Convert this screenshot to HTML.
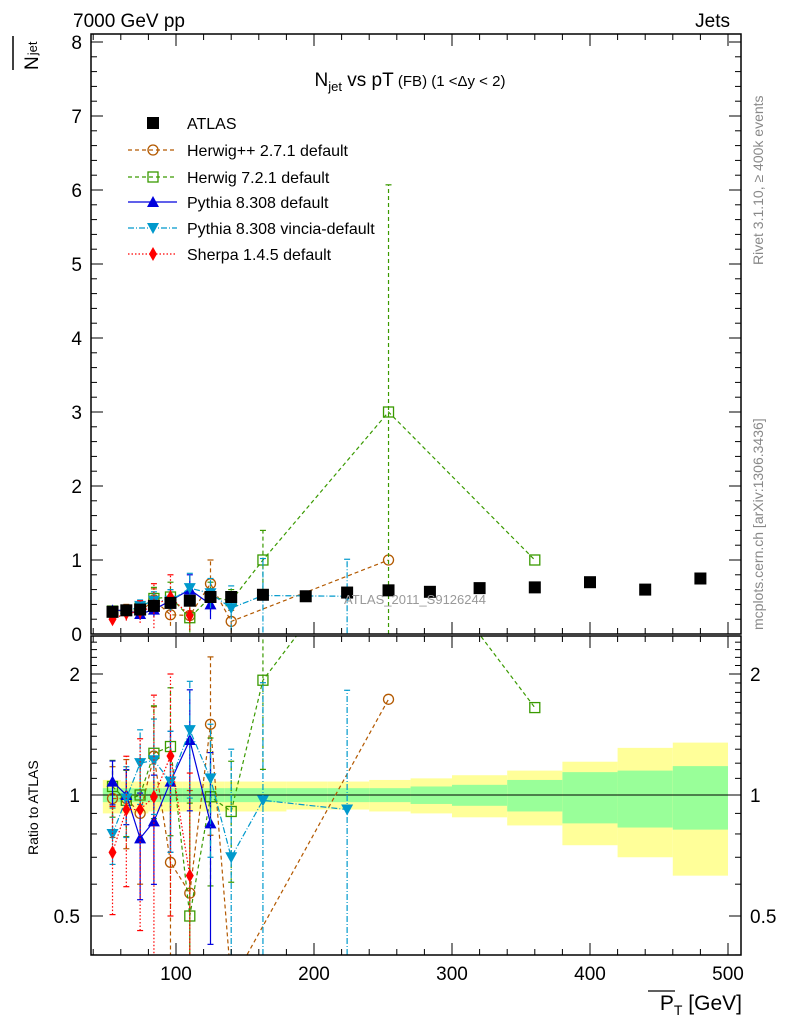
<!DOCTYPE html>
<html><head><meta charset="utf-8"><style>
html,body{margin:0;padding:0;background:#fff;width:786px;height:1024px;overflow:hidden;}
svg{display:block;font-family:"Liberation Sans",sans-serif;}
</style></head><body>
<svg id="c" width="786" height="1024" viewBox="0 0 786 1024"></svg>
<script>
const xATLAS=[54,64,74,84,96,110,125,140,163,194,224,254,284,320,360,400,440,480];
const yATLAS=[0.3,0.32,0.33,0.38,0.42,0.45,0.5,0.5,0.53,0.51,0.56,0.59,0.57,0.62,0.63,0.70,0.60,0.75];
const xHpp=[54,64,74,84,96,110,125,140,254];
const yHpp=[0.3,0.32,0.3,0.46,0.26,0.25,0.68,0.17,1.0];
const eHpp=[0.06,0.08,0.1,0.15,0.15,0.2,0.32,0.15,0];
const rHpp=[0.98,0.98,0.9,1.25,0.68,0.57,1.5,0.34,1.73];
const xH7=[54,64,74,84,96,110,125,140,163,254,360];
const yH7=[0.31,0.32,0.35,0.48,0.5,0.22,0.5,0.45,1.0,3.0,1.0];
const eH7=[0.05,0.06,0.08,0.15,0.2,0.2,0.2,0.15,0.4,3.07,0];
const rH7=[1.05,0.97,1.0,1.27,1.32,0.5,0.99,0.91,1.93,5.0,1.65];
const xPy=[54,64,74,84,96,110,125];
const yPy=[0.32,0.32,0.27,0.33,0.45,0.6,0.4];
const ePy=[0.04,0.05,0.08,0.1,0.15,0.2,0.2];
const rPy=[1.08,1.0,0.78,0.86,1.08,1.37,0.85];
const xVi=[54,64,74,84,96,110,125,140,163,224];
const yVi=[0.25,0.3,0.38,0.45,0.45,0.62,0.55,0.35,0.52,0.51];
const eVi=[0.04,0.06,0.08,0.12,0.15,0.2,0.2,0.3,0.5,0.5];
const rVi=[0.8,0.98,1.2,1.22,1.08,1.45,1.1,0.7,0.97,0.92];
const xSh=[54,64,74,84,96,110];
const ySh=[0.2,0.28,0.3,0.38,0.5,0.25];
const eSh=[0.06,0.1,0.15,0.3,0.3,0.2];
const rSh=[0.72,0.92,0.92,0.99,1.25,0.63];
const binEdges=[47,60,70,80,90,105,120,135,150,180,210,240,270,300,340,380,420,460,500];
const yelHi=[1.09,1.08,1.08,1.08,1.08,1.08,1.08,1.08,1.08,1.08,1.08,1.09,1.1,1.12,1.15,1.21,1.31,1.35];
const yelLo=[0.9,0.9,0.9,0.91,0.91,0.91,0.91,0.91,0.91,0.92,0.92,0.91,0.9,0.88,0.84,0.75,0.7,0.63];
const grnHi=[1.04,1.04,1.04,1.04,1.04,1.04,1.04,1.04,1.04,1.04,1.04,1.04,1.05,1.06,1.09,1.14,1.15,1.18];
const grnLo=[0.96,0.96,0.96,0.96,0.96,0.96,0.96,0.96,0.96,0.96,0.96,0.96,0.95,0.94,0.91,0.85,0.83,0.82];

const S=document.getElementById('c');const NS='http://www.w3.org/2000/svg';
function el(t,a,p){const e=document.createElementNS(NS,t);for(const k in a)e.setAttribute(k,a[k]);(p||S).appendChild(e);return e;}
const L=91,R=741,T=34,MB=634,RB=955;
const X=v=>176+(v-100)*1.38;
const Y=v=>634-v*74;
const YR=r=>795-121*Math.log2(r);
const defs=el('defs',{});
const c1=el('clipPath',{id:'cm'},defs);el('rect',{x:L,y:T,width:R-L,height:MB-T},c1);
const c2=el('clipPath',{id:'cr'},defs);el('rect',{x:L,y:636,width:R-L,height:RB-636},c2);
const gb=el('g',{'clip-path':'url(#cr)'});

for(let i=0;i<yelHi.length;i++){
 const x0=X(binEdges[i]),x1=X(binEdges[i+1]);
 el('rect',{x:x0,y:YR(yelHi[i]),width:x1-x0,height:YR(yelLo[i])-YR(yelHi[i]),fill:'#ffff99'},gb);
 el('rect',{x:x0,y:YR(grnHi[i]),width:x1-x0,height:YR(grnLo[i])-YR(grnHi[i]),fill:'#99ff99'},gb);
}
el('line',{x1:L,x2:R,y1:YR(1),y2:YR(1),stroke:'#000','stroke-width':1});
const series=[
 {n:'herwigpp',x:xHpp,y:yHpp,e:eHpp,r:rHpp,c:'#b35900',d:'4,3',m:'circle'},
 {n:'herwig7',x:xH7,y:yH7,e:eH7,r:rH7,c:'#3a9a00',d:'4,3',m:'square'},
 {n:'pythia',x:xPy,y:yPy,e:ePy,r:rPy,c:'#0000dd',d:'',m:'up'},
 {n:'vincia',x:xVi,y:yVi,e:eVi,r:rVi,c:'#0099cc',d:'6,2,1,2',m:'down'},
 {n:'sherpa',x:xSh,y:ySh,e:eSh,r:rSh,c:'#ff0000',d:'1.5,2',m:'diamond'}];
function marker(g,m,x,y,c){
 if(m=='circle')return el('circle',{cx:x,cy:y,r:5,fill:'none',stroke:c,'stroke-width':1.3},g);
 if(m=='square')return el('rect',{x:x-5,y:y-5,width:10,height:10,fill:'none',stroke:c,'stroke-width':1.3},g);
 if(m=='up')return el('polygon',{points:`${x},${y-6} ${x-6},${y+5} ${x+6},${y+5}`,fill:c},g);
 if(m=='down')return el('polygon',{points:`${x},${y+6} ${x-6},${y-5} ${x+6},${y-5}`,fill:c},g);
 if(m=='diamond')return el('polygon',{points:`${x},${y-7} ${x-4},${y} ${x},${y+7} ${x+4},${y}`,fill:c},g);
 if(m=='sq')return el('rect',{x:x-6,y:y-6,width:12,height:12,fill:'#000'},g);
}
series.forEach(s=>{
 const gm=el('g',{'clip-path':'url(#cm)'});
 
 el('polyline',{points:s.x.map((v,i)=>X(v)+','+Y(s.y[i])).join(' '),fill:'none',stroke:s.c,'stroke-width':1.2,'stroke-dasharray':s.d},gm);
 s.x.forEach((v,i)=>{const x=X(v);if(s.e[i]>0){const a=Y(Math.max(0,s.y[i]-s.e[i])),b=Y(s.y[i]+s.e[i]);
  el('line',{x1:x,x2:x,y1:a,y2:b,stroke:s.c,'stroke-width':1.2,'stroke-dasharray':s.d},gm);
  el('line',{x1:x-3,x2:x+3,y1:b,y2:b,stroke:s.c,'stroke-width':1.2},gm);}
  marker(gm,s.m,x,Y(s.y[i]),s.c);});
 const gr=el('g',{'clip-path':'url(#cr)'});
 
 el('polyline',{points:s.x.map((v,i)=>X(v)+','+YR(s.r[i])).join(' '),fill:'none',stroke:s.c,'stroke-width':1.2,'stroke-dasharray':s.d},gr);
 s.x.forEach((v,i)=>{const x=X(v);if(s.e[i]>0&&s.r[i]<2.5&&s.r[i]>0.4){const re=s.e[i]/s.y[i]*s.r[i];const a=YR(Math.max(0.05,s.r[i]-re)),b=YR(s.r[i]+re);
  el('line',{x1:x,x2:x,y1:a,y2:b,stroke:s.c,'stroke-width':1.2,'stroke-dasharray':s.d},gr);
  el('line',{x1:x-3,x2:x+3,y1:b,y2:b,stroke:s.c,'stroke-width':1.2},gr);
  el('line',{x1:x-3,x2:x+3,y1:a,y2:a,stroke:s.c,'stroke-width':1.2},gr);}
  marker(gr,s.m,x,YR(s.r[i]),s.c);});
});
const ga=el('g',{'clip-path':'url(#cm)'});

xATLAS.forEach((v,i)=>marker(ga,'sq',X(v),Y(yATLAS[i])));
el('text',{x:415,y:604,'font-size':13,fill:'#999','text-anchor':'middle'}).textContent='ATLAS_2011_S9126244';
el('rect',{x:L,y:T,width:R-L,height:MB-T,fill:'none',stroke:'#000','stroke-width':1.5});
el('rect',{x:L,y:MB+2,width:R-L,height:RB-MB-2,fill:'none',stroke:'#000','stroke-width':1.5});
for(let v=0;v<=8.001;v+=0.2){const y=Y(v);const maj=Math.abs(v-Math.round(v))<1e-6;const l=maj?12:6;
 el('line',{x1:L,x2:L+l,y1:y,y2:y,stroke:'#000'});el('line',{x1:R,x2:R-l,y1:y,y2:y,stroke:'#000'});
 if(maj){const t=el('text',{x:82,y:y+7,'font-size':19,'text-anchor':'end'});t.textContent=Math.round(v);}}
for(let v=0.4;v<=2.5;v+=0.1){const y=YR(v);if(y<636||y>RB)continue;const maj=[0.5,1,2].some(m=>Math.abs(m-v)<1e-6);const l=maj?12:6;
 el('line',{x1:L,x2:L+l,y1:y,y2:y,stroke:'#000'});el('line',{x1:R,x2:R-l,y1:y,y2:y,stroke:'#000'});
 if(maj){const s=Math.abs(v-1)<1e-6?'1':Math.abs(v-2)<1e-6?'2':'0.5';
  el('text',{x:80,y:y+7,'font-size':19,'text-anchor':'end'}).textContent=s;
  el('text',{x:750,y:y+7,'font-size':19}).textContent=s;}}
for(let v=40;v<=508;v+=20){const x=X(v);const maj=v%100==0;const l=maj?12:6;
 [[MB,-1],[T,1],[RB,-1],[636,1]].forEach(([y0,d])=>el('line',{x1:x,x2:x,y1:y0,y2:y0+d*l,stroke:'#000'}));
 if(maj)el('text',{x:x,y:980,'font-size':19,'text-anchor':'middle'}).textContent=v;}
el('text',{x:73,y:27,'font-size':19}).textContent='7000 GeV pp';
el('text',{x:730,y:27,'font-size':19,'text-anchor':'end'}).textContent='Jets';
el('line',{x1:13,x2:13,y1:36,y2:70,stroke:'#000','stroke-width':1.5});
const yt=el('text',{transform:'translate(38,70) rotate(-90)','font-size':19});yt.innerHTML='N<tspan font-size="13" dy="-1" dx="1">jet</tspan>';
const tt=el('text',{x:410,y:86,'font-size':19,'text-anchor':'middle'});
tt.innerHTML='N<tspan font-size="13" dy="5">jet</tspan><tspan dy="-5"> vs pT</tspan><tspan font-size="15"> (FB) (1 &lt;Δy &lt; 2)</tspan>';
el('text',{transform:'translate(38,855) rotate(-90)','font-size':14}).textContent='Ratio to ATLAS';
const xt=el('text',{x:742,y:1010,'font-size':21,'text-anchor':'end'});xt.innerHTML='P<tspan font-size="14" dy="5">T</tspan><tspan dy="-5"> [GeV]</tspan>';
el('line',{x1:648,x2:675,y1:991,y2:991,stroke:'#000','stroke-width':1.3});
el('text',{transform:'translate(763,265) rotate(-90)','font-size':14,fill:'#888'}).textContent='Rivet 3.1.10, ≥ 400k events';
el('text',{transform:'translate(763,630) rotate(-90)','font-size':14,fill:'#888'}).textContent='mcplots.cern.ch [arXiv:1306.3436]';
const leg=[['ATLAS',null],['Herwig++ 2.7.1 default',0],['Herwig 7.2.1 default',1],['Pythia 8.308 default',2],['Pythia 8.308 vincia-default',3],['Sherpa 1.4.5 default',4]];
const ly=[123,150,177,202,228,254];
leg.forEach((l,i)=>{const g=el('g',{});
 const y=ly[i];
 if(l[1]===null)marker(g,'sq',153,y);else{const s=series[l[1]];
  el('line',{x1:128,x2:177,y1:y,y2:y,stroke:s.c,'stroke-width':1.3,'stroke-dasharray':s.d},g);marker(g,s.m,153,y,s.c);}
 el('text',{x:187,y:y+6,'font-size':16},g).textContent=l[0];});
</script>
</body></html>
